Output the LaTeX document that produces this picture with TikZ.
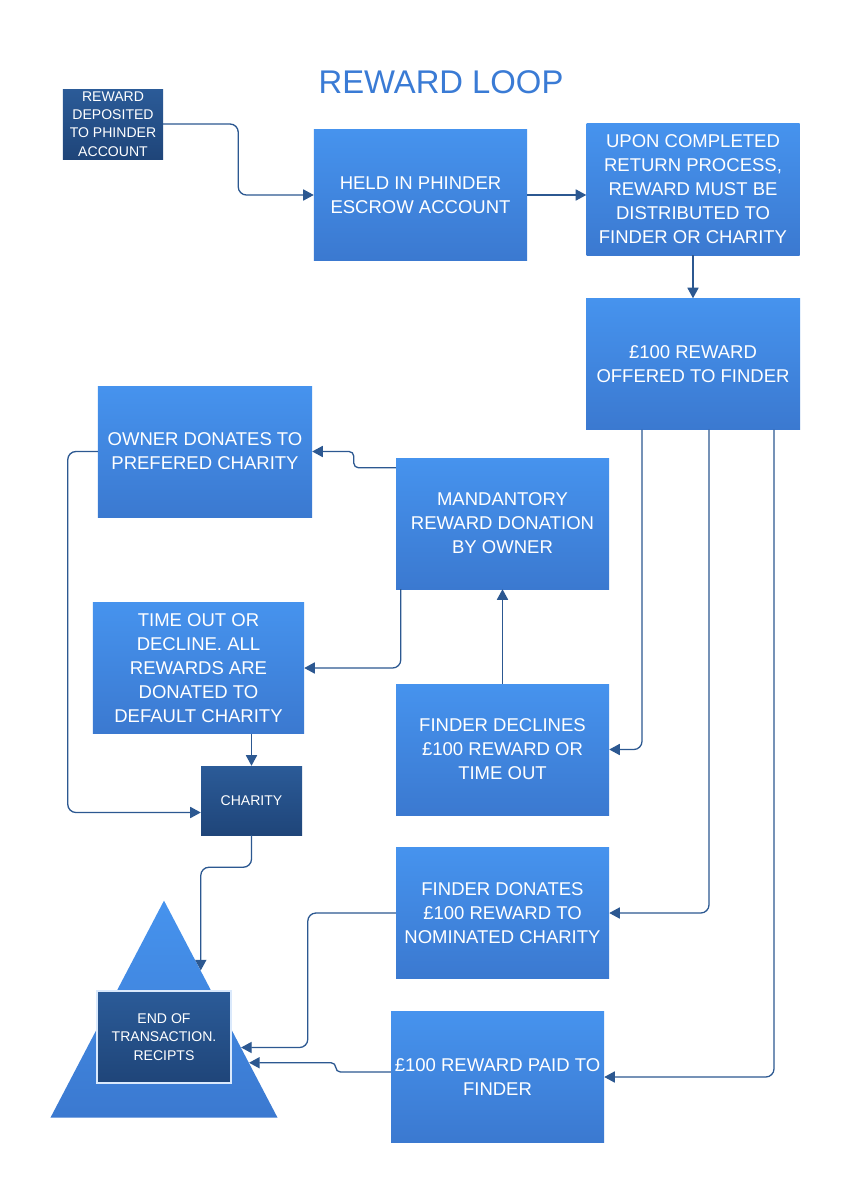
\documentclass[tikz,border=0pt]{standalone}
\usepackage{fontspec}
\setmainfont{Liberation Sans}
\usetikzlibrary{positioning}
\usetikzlibrary{arrows.meta}
\usetikzlibrary{calc}
\usetikzlibrary{shapes.geometric}
\definecolor{boxtop}{HTML}{4693EE}
\definecolor{boxbot}{HTML}{3B79D0}
\definecolor{navytop}{HTML}{2B5B98}
\definecolor{navybot}{HTML}{1F4579}
\definecolor{wire}{HTML}{2C5891}
\definecolor{heading}{HTML}{3A7BD5}
\tikzset{
  % A process step: blue gradient box
  procbox/.style={
    draw=none, top color=boxtop, bottom color=boxbot, rectangle,
    align=center, text=white, font={\fontsize{15.8pt}{20.5pt}\selectfont},
    inner sep=2pt, minimum width=6.39cm, minimum height=3.93cm},
  % A small dark box: deposit, charity, end of transaction
  navybox/.style={
    draw=none, top color=navytop, bottom color=navybot, rectangle,
    align=center, text=white, font={\fontsize{12pt}{15.7pt}\selectfont},
    inner sep=2pt, minimum width=#1},
  % The end marker
  tri/.style={
    isosceles triangle, shape border rotate=90, isosceles triangle stretches,
    minimum width=6.81cm, minimum height=6.51cm, inner sep=0pt,
    draw=none, top color=boxtop, bottom color=boxbot},
  % Connectors
  flow/.style={-{Triangle[length=9pt,width=9.5pt]}, draw=wire,
    line width=1.1pt, rounded corners=7pt},
}

\begin{document}
\begin{tikzpicture}[x=0.03cm, y=-0.03cm]

  \path[fill=white, use as bounding box] (0,0) rectangle (849,1200);

  % --- Title ------------------------------------------------------------
  \node[font={\fontsize{28pt}{32pt}\selectfont}, text=heading, anchor=base]
       (title) at (441,93) {REWARD LOOP};

  % --- Top row ----------------------------------------------------------
  \node[navybox=3cm, minimum height=2.1cm] (deposit) at (113,124)
       {REWARD\\DEPOSITED\\TO PHINDER\\ACCOUNT};
  \node[procbox] (held) at (420.5,195) {HELD IN PHINDER\\ESCROW ACCOUNT};
  \node[procbox] (upon) at (693,189.5)
       {UPON COMPLETED\\RETURN PROCESS,\\REWARD MUST BE\\DISTRIBUTED TO\\FINDER OR CHARITY};
  \node[procbox, minimum width=6.42cm] (offered) at (693,364)
       {£100 REWARD\\OFFERED TO FINDER};

  % --- Donation branch --------------------------------------------------
  \node[procbox, minimum width=6.42cm] (owner) at (205,451.5)
       {OWNER DONATES TO\\PREFERED CHARITY};
  \node[procbox] (mandatory) at (502.5,523.5)
       {MANDANTORY\\REWARD DONATION\\BY OWNER};
  \node[procbox, minimum width=6.33cm] (timeout) at (198.5,668)
       {TIME OUT OR\\DECLINE. ALL\\REWARDS ARE\\DONATED TO\\DEFAULT CHARITY};
  \node[procbox] (declines) at (502.5,749.5)
       {FINDER DECLINES\\£100 REWARD OR\\TIME OUT};
  \node[navybox=3.03cm, minimum height=2.07cm] (charity) at (251.5,800.5) {CHARITY};

  % --- Finder outcomes --------------------------------------------------
  \node[procbox] (donates) at (502.5,913)
       {FINDER DONATES\\£100 REWARD TO\\NOMINATED CHARITY};
  \node[procbox] (paid) at (497.5,1077) {£100 REWARD PAID TO\\FINDER};

  % --- End of transaction -----------------------------------------------
  \node[tri, anchor=apex] (endtri) at (164,900) {};
  \node[navybox=4.02cm, minimum height=2.76cm, draw=white!80!boxtop, line width=1pt]
       (endbox) at (164,1037) {END OF\\TRANSACTION.\\RECIPTS};

  \coordinate (hitA) at ($(endtri.apex)!0.323!(endtri.right corner)$);
  \coordinate (hitB) at ($(endtri.apex)!0.677!(endtri.right corner)$);
  \coordinate (hitC) at ($(endtri.apex)!0.747!(endtri.right corner)$);

  % --- Connectors -------------------------------------------------------
  \draw[flow] (deposit.east) -- ++(75,0) |- (held.west);
  \draw[flow] (held.east) -- (held.east -| upon.west);
  \draw[flow] (upon.south) -- (offered.north);
  \draw[flow] ($(offered.south)+(-51,0)$) |- (declines.east);
  \draw[flow] ($(offered.south)+(16,0)$) |- (donates.east);
  \draw[flow] ($(offered.south)+(81,0)$) |- (paid.east);
  \draw[flow] (declines.north) -- (mandatory.south);
  \draw[flow, rounded corners=4pt] ($(mandatory.north west)+(0,10)$) -- ++(-42,0) |- (owner.east);
  \draw[flow] ($(mandatory.south west)+(5,0)$) |- (timeout.east);
  \draw[flow] (owner.west) -- ++(-30,0) |- ($(charity.west)+(0,12)$);
  \draw[flow] (timeout.south -| charity.north) -- (charity.north);
  \draw[flow] (charity.south) -- ++(0,32) -| (hitA);
  \draw[flow] (donates.west) -- ++(-88,0) |- (hitB);
  \draw[flow, rounded corners=4pt] ($(paid.west)+(0,-5)$) -- ++(-55,0) |- (hitC);

\end{tikzpicture}
\end{document}
